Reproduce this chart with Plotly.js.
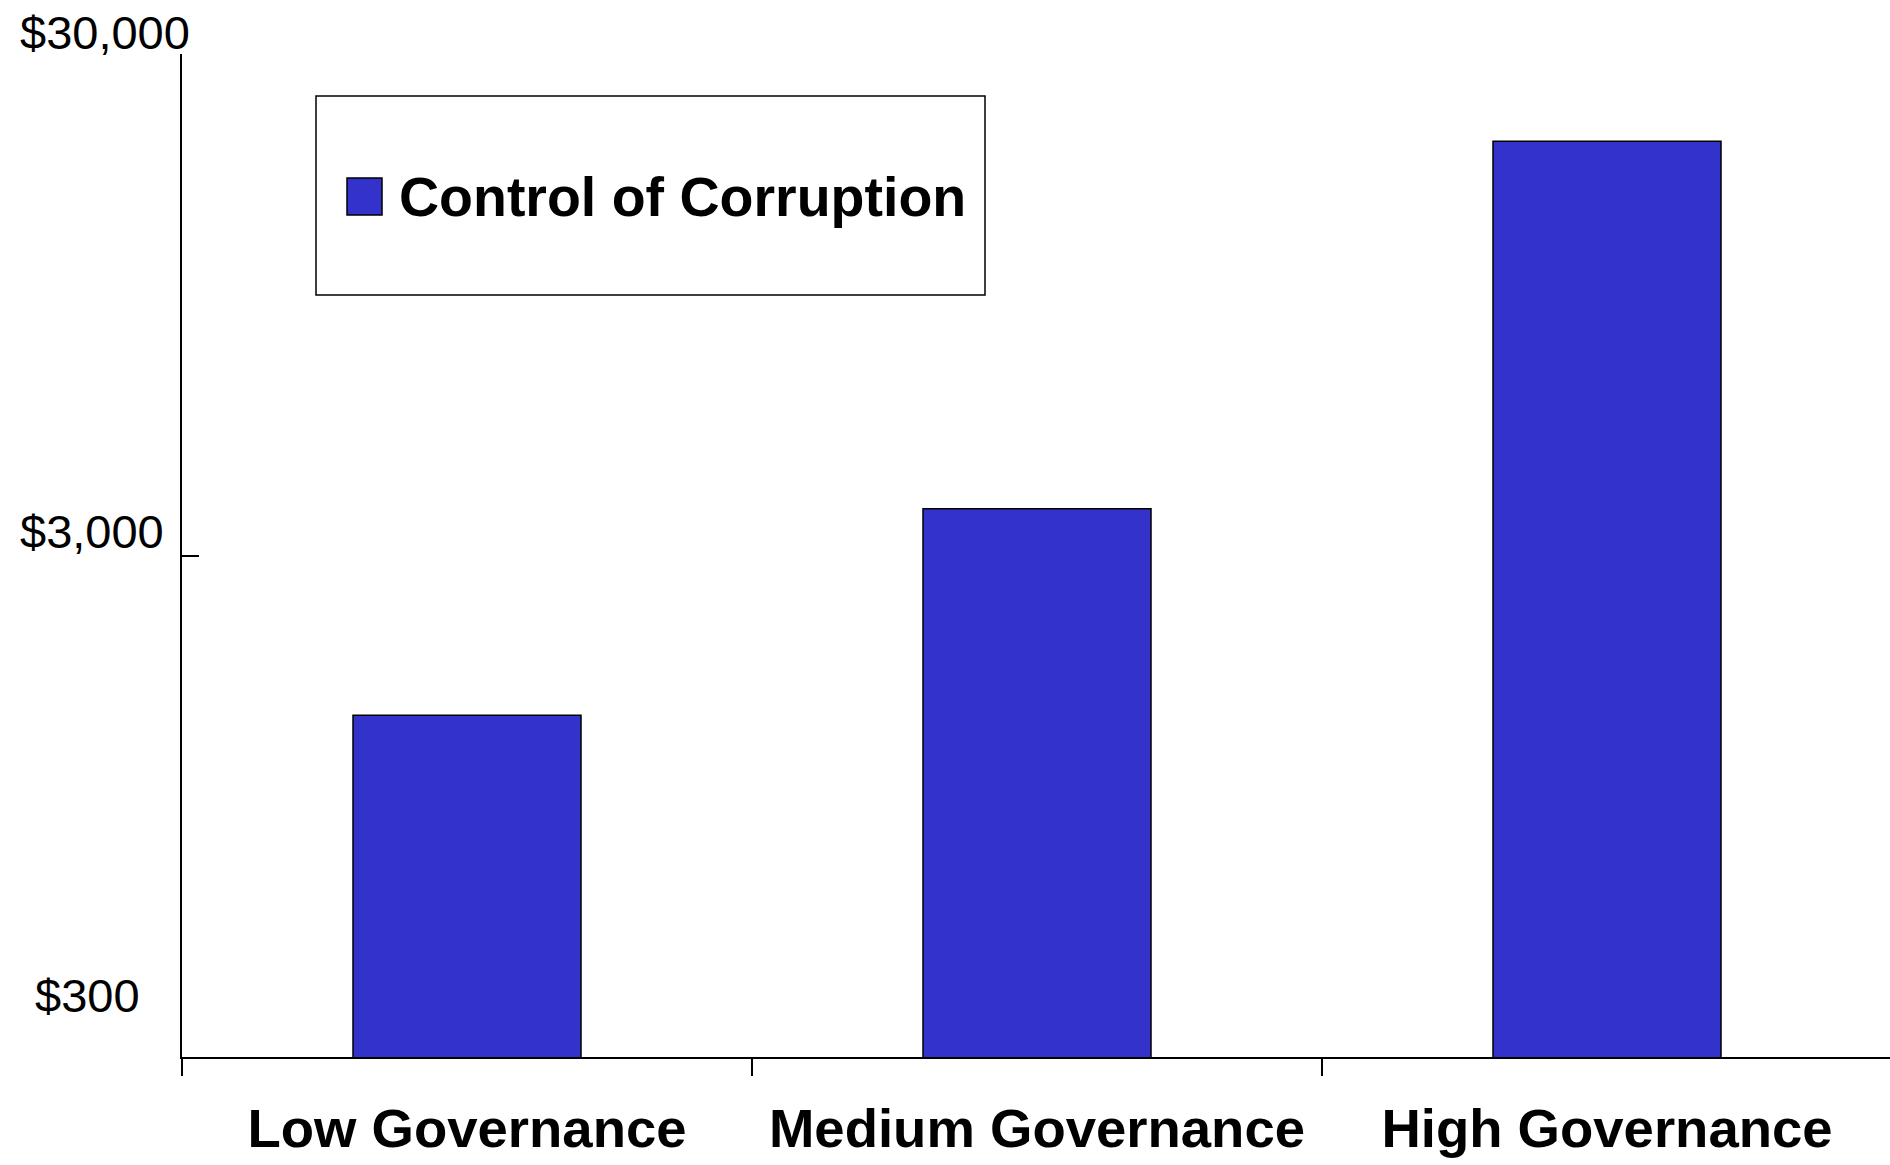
<!DOCTYPE html>
<html>
<head>
<meta charset="utf-8">
<script src="https://cdn.plot.ly/plotly-3.0.1.min.js"></script>
<style>
  html, body { margin: 0; padding: 0; background: #ffffff; }
  #chart { width: 1890px; height: 1165px; }
</style>
</head>
<body>
<div id="chart"></div>
<script>
// ---------- data ----------
const categories = ['Low Governance', 'Medium Governance', 'High Governance'];
const seriesName = 'Control of Corruption';
const gdpPerCapita = [1440, 3720, 20100];
const yTickVals = [300, 3000, 30000];
const yTickText = ['$300', '$3,000', '$30,000'];

// ---------- style / layout ----------
const W = 1890, H = 1165;
const M = { l: 182, r: 0, t: 54, b: 108 };
const plotW = W - M.l - M.r;
const plotH = H - M.t - M.b;
const barColor = '#3333CC';
const fontFam = '"Liberation Sans", Arial, Helvetica, sans-serif';

// pixel -> paper helpers (for non-data decorations)
const px = v => (v - M.l) / plotW;
const py = v => (H - M.b - v) / plotH;

// tick-label placement offsets (styling, relative to axis)
const labelXShift = [-149, -164, -164];
const labelYShift = [62, 24, 21.5];

const trace = {
  type: 'bar',
  x: categories,
  y: gdpPerCapita,
  name: seriesName,
  width: 0.4,
  marker: { color: barColor, line: { color: '#000000', width: 1.5 } },
  hoverinfo: 'x+y',
  showlegend: false
};

const annotations = yTickVals.map((v, i) => ({
  xref: 'paper', yref: 'y',
  x: 0, y: Math.log10(v),
  xanchor: 'left', yanchor: 'middle',
  xshift: labelXShift[i], yshift: labelYShift[i],
  text: yTickText[i],
  showarrow: false,
  font: { family: fontFam, size: 47, color: '#000000' }
}));

// legend text
annotations.push({
  xref: 'paper', yref: 'paper',
  x: px(397), y: py(197),
  xanchor: 'left', yanchor: 'middle',
  text: seriesName,
  showarrow: false,
  font: { family: fontFam, size: 55.5, color: '#000000', weight: 'bold' }
});

const shapes = [
  // legend frame
  { type: 'rect', xref: 'paper', yref: 'paper',
    x0: px(316), x1: px(985), y0: py(295), y1: py(96),
    line: { color: '#000000', width: 1.5 }, fillcolor: '#ffffff', layer: 'above' },
  // legend swatch
  { type: 'rect', xref: 'paper', yref: 'paper',
    x0: px(347), x1: px(382), y0: py(215), y1: py(178),
    line: { color: '#000000', width: 1.5 }, fillcolor: barColor, layer: 'above' }
];

const layout = {
  width: W, height: H,
  margin: M,
  paper_bgcolor: '#ffffff',
  plot_bgcolor: '#ffffff',
  font: { family: fontFam, color: '#000000' },
  showlegend: false,
  bargap: 0.6,
  xaxis: {
    type: 'category',
    range: [-0.5, 2.4965],
    tickson: 'boundaries',
    ticks: 'outside',
    ticklen: 17,
    tickwidth: 1.5,
    tickcolor: '#000000',
    showline: true,
    linecolor: '#000000',
    linewidth: 1.5,
    showgrid: false,
    zeroline: false,
    tickfont: { family: fontFam, size: 54.5, color: '#000000', weight: 'bold' },
    ticklabelstandoff: 23
  },
  yaxis: {
    type: 'log',
    range: [Math.log10(yTickVals[0]), Math.log10(yTickVals[2])],
    tickmode: 'array',
    tickvals: yTickVals,
    ticktext: yTickText,
    showticklabels: false,
    ticks: 'inside',
    ticklen: 17,
    tickwidth: 1.5,
    tickcolor: '#000000',
    showline: true,
    linecolor: '#000000',
    linewidth: 1.5,
    showgrid: false,
    zeroline: false
  },
  annotations: annotations,
  shapes: shapes
};

Plotly.newPlot('chart', [trace], layout, { displayModeBar: false, responsive: false });
</script>
</body>
</html>
